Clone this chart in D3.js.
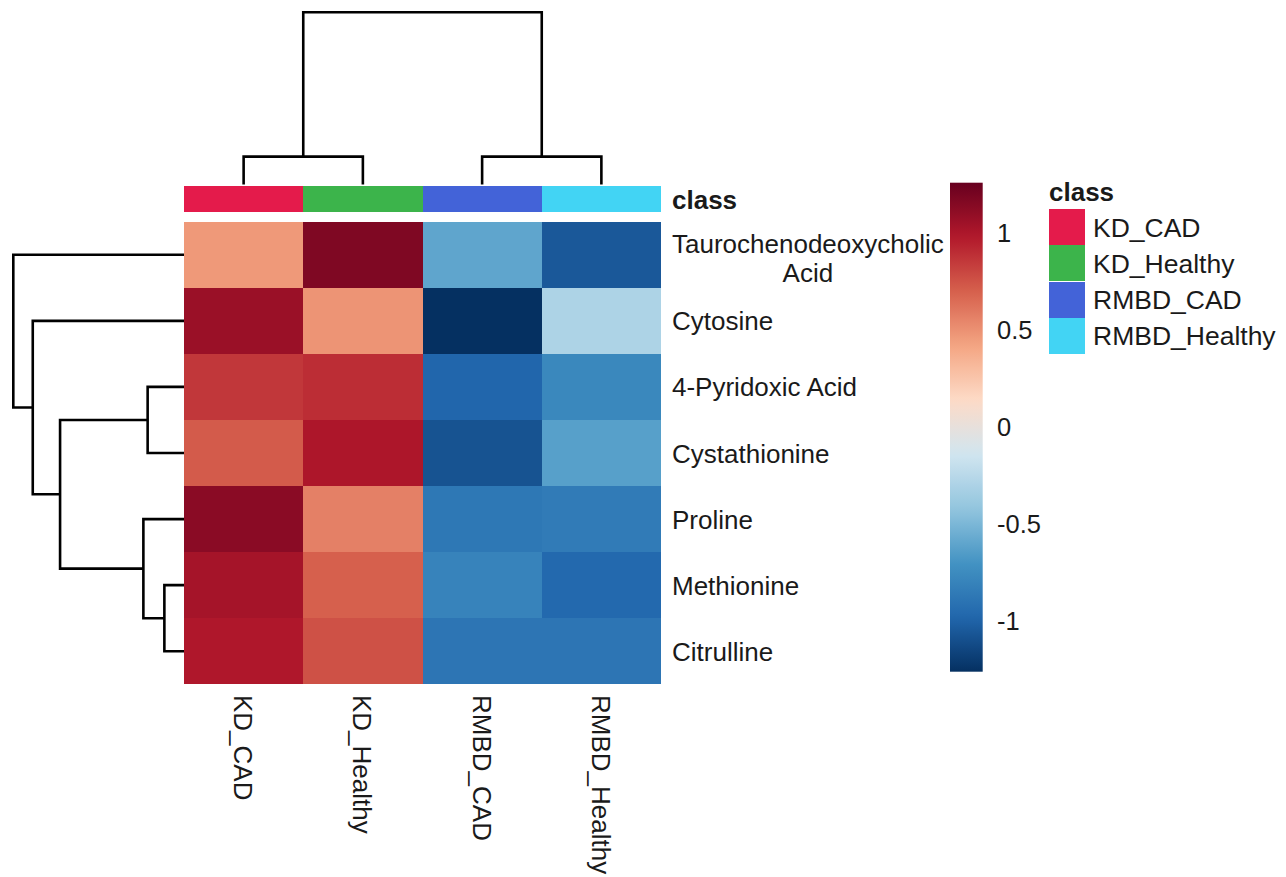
<!DOCTYPE html>
<html>
<head>
<meta charset="utf-8">
<script src="https://cdn.jsdelivr.net/npm/d3@7"></script>
<style>
  html, body { margin: 0; padding: 0; background: #ffffff; }
  svg { display: block; }
  text { font-family: "Liberation Sans", Arial, Helvetica, sans-serif; fill: #1a1a1a; }
</style>
</head>
<body>
<svg id="chart" width="1286" height="877"></svg>
<script>
// ---- data ----
const groups = ["KD_CAD", "KD_Healthy", "RMBD_CAD", "RMBD_Healthy"];
const groupColors = ["#e41b4b", "#3cb44b", "#4363d8", "#42d4f4"];

const features = ["Taurochenodeoxycholic Acid", "Cytosine", "4-Pyridoxic Acid",
  "Cystathionine", "Proline", "Methionine", "Citrulline"];
const featureLines = [["Taurochenodeoxycholic", "Acid"], ["Cytosine"], ["4-Pyridoxic Acid"],
  ["Cystathionine"], ["Proline"], ["Methionine"], ["Citrulline"]];

// row-scaled group means, one array per group (rows in feature order)
const kdCAD       = [0.47, 1.07, 0.86, 0.72, 1.13, 1.03, 0.99];
const kdHealthy   = [1.17, 0.49, 0.90, 1.00, 0.57, 0.70, 0.76];
const rmbdCAD     = [-0.60, -1.26, -0.98, -1.08, -0.87, -0.80, -0.885];
const rmbdHealthy = [-1.05, -0.30, -0.77, -0.63, -0.85, -0.96, -0.885];
const groupValues = [kdCAD, kdHealthy, rmbdCAD, rmbdHealthy];

// hclust-style merges: negative = leaf (1-based), positive = earlier merge; third = height
const colMerges = [[-1, -2, 0.156], [-3, -4, 0.156], [1, 2, 1.0]];
const rowMerges = [[-6, -7, 0.115], [-3, -4, 0.213], [-5, 1, 0.238],
  [2, 3, 0.726], [-2, 4, 0.886], [-1, 5, 1.0]];

const legendTicks = [1, 0.5, 0, -0.5, -1];
// reversed RdBu (10 classes)
const palette = ["#053061", "#2166ac", "#4393c3", "#92c5de", "#d1e5f0",
  "#fddbc7", "#f4a582", "#d6604d", "#b2182b", "#67001f"];

// ---- layout ----
const hm = { x0: 184, x1: 661, y0: 221.7, y1: 684.3 };
const classBar = { y0: 186, y1: 212.3 };
const fs = 26;

const svg = d3.select("#chart");
svg.append("rect").attr("width", 1286).attr("height", 877).attr("fill", "#fff");

const x = d3.scaleBand().domain(groups).range([hm.x0, hm.x1]);
const y = d3.scaleBand().domain(features).range([hm.y0, hm.y1]);

const cells = [];
features.forEach((f, i) => groups.forEach((g, j) => cells.push({ f, g, v: groupValues[j][i] })));
const maxAbs = d3.max(cells, d => Math.abs(d.v));

const stops = palette.map((_, i) => -maxAbs + (2 * maxAbs) * i / (palette.length - 1));
const color = d3.scaleLinear().domain(stops).range(palette).interpolate(d3.interpolateRgb).clamp(true);

// heatmap cells
svg.append("g").selectAll("rect").data(cells).join("rect")
  .attr("x", d => x(d.g)).attr("y", d => y(d.f))
  .attr("width", x.bandwidth()).attr("height", y.bandwidth())
  .attr("fill", d => color(d.v))
  .attr("shape-rendering", "crispEdges");

// class annotation bar
const classColor = d3.scaleOrdinal().domain(groups).range(groupColors);
svg.append("g").selectAll("rect").data(groups).join("rect")
  .attr("x", d => x(d)).attr("y", classBar.y0)
  .attr("width", x.bandwidth()).attr("height", classBar.y1 - classBar.y0)
  .attr("fill", d => classColor(d))
  .attr("shape-rendering", "crispEdges");

svg.append("text").attr("x", 672).attr("y", (classBar.y0 + classBar.y1) / 2 + 9.4)
  .attr("font-size", fs).attr("font-weight", "bold").text("class");

// ---- dendrograms ----
function dendroSegments(merges, leafPos) {
  const nodes = [];
  const segs = [];
  const get = k => k < 0 ? { p: leafPos[-k - 1], h: 0 } : nodes[k - 1];
  merges.forEach(([a, b, h]) => {
    const A = get(a), B = get(b);
    segs.push([[A.p, A.h], [A.p, h], [B.p, h], [B.p, B.h]]);
    nodes.push({ p: (A.p + B.p) / 2, h });
  });
  return segs;
}

const colH = d3.scaleLinear().domain([0, 1]).range([183.3, 12.3]);
const colLeaf = groups.map(g => x(g) + x.bandwidth() / 2);
const colLine = d3.line().x(d => d[0]).y(d => colH(d[1]));
svg.append("g").selectAll("path").data(dendroSegments(colMerges, colLeaf)).join("path")
  .attr("d", colLine).attr("fill", "none").attr("stroke", "#000")
  .attr("stroke-width", 2.6).attr("stroke-linejoin", "miter").attr("stroke-linecap", "square");

const rowH = d3.scaleLinear().domain([0, 1]).range([hm.x0, 13.3]);
const rowLeaf = features.map(f => y(f) + y.bandwidth() / 2);
const rowLine = d3.line().x(d => rowH(d[1])).y(d => d[0]);
svg.append("g").selectAll("path").data(dendroSegments(rowMerges, rowLeaf)).join("path")
  .attr("d", rowLine).attr("fill", "none").attr("stroke", "#000")
  .attr("stroke-width", 2.6).attr("stroke-linejoin", "miter").attr("stroke-linecap", "butt");

// ---- row labels ----
const rowLabels = svg.append("g");
features.forEach((f, i) => {
  const lines = featureLines[i];
  const cy = y(f) + y.bandwidth() / 2;
  if (lines.length === 1) {
    rowLabels.append("text").attr("x", 672).attr("y", cy + 9.5)
      .attr("font-size", fs).text(lines[0]);
  } else {
    const lh = 29;
    const base = cy + 12.5 - lh / 2 * (lines.length - 1);
    const t0 = rowLabels.append("text").attr("x", 672)
      .attr("y", base).attr("font-size", fs).text(lines[0]);
    const w = t0.node().getComputedTextLength();
    t0.attr("x", 672 + w / 2).attr("text-anchor", "middle");
    lines.slice(1).forEach((ln, k) => {
      rowLabels.append("text").attr("x", 672 + w / 2).attr("text-anchor", "middle")
        .attr("y", base + lh * (k + 1))
        .attr("font-size", fs).text(ln);
    });
  }
});

// ---- column labels (rotated) ----
svg.append("g").selectAll("text").data(groups).join("text")
  .attr("transform", d => `translate(${x(d) + x.bandwidth() / 2},695) rotate(90)`)
  .attr("y", 9.5).attr("font-size", fs).text(d => d);

// ---- colour key ----
const key = { x: 950, w: 32.7, y0: 182.7, y1: 671.7 };
const keyY = d3.scaleLinear().domain([-maxAbs, maxAbs]).range([key.y1, key.y0]);
const grad = svg.append("defs").append("linearGradient").attr("id", "keyGrad")
  .attr("x1", 0).attr("y1", 1).attr("x2", 0).attr("y2", 0);
d3.range(0, 1.0001, 0.02).forEach(t => {
  grad.append("stop").attr("offset", t).attr("stop-color", color(-maxAbs + 2 * maxAbs * t));
});
svg.append("rect").attr("x", key.x).attr("y", key.y0).attr("width", key.w)
  .attr("height", key.y1 - key.y0).attr("fill", "url(#keyGrad)");
svg.append("g").selectAll("text").data(legendTicks).join("text")
  .attr("x", key.x + 47).attr("y", d => keyY(d) + 9)
  .attr("font-size", 25.5).text(d => String(d));

// ---- class legend ----
const leg = { x: 1049, y0: 209.3, sw: 36.3, sh: 36.1 };
svg.append("text").attr("x", leg.x).attr("y", 200.7).attr("font-size", fs)
  .attr("font-weight", "bold").text("class");
const legRows = svg.append("g").selectAll("g").data(groups).join("g")
  .attr("transform", (d, i) => `translate(${leg.x},${leg.y0 + i * leg.sh})`);
legRows.append("rect").attr("width", leg.sw).attr("height", leg.sh)
  .attr("fill", d => classColor(d)).attr("shape-rendering", "crispEdges");
legRows.append("text").attr("x", 44).attr("y", leg.sh / 2 + 9.3)
  .attr("font-size", 26.5).text(d => d);
</script>
</body>
</html>
